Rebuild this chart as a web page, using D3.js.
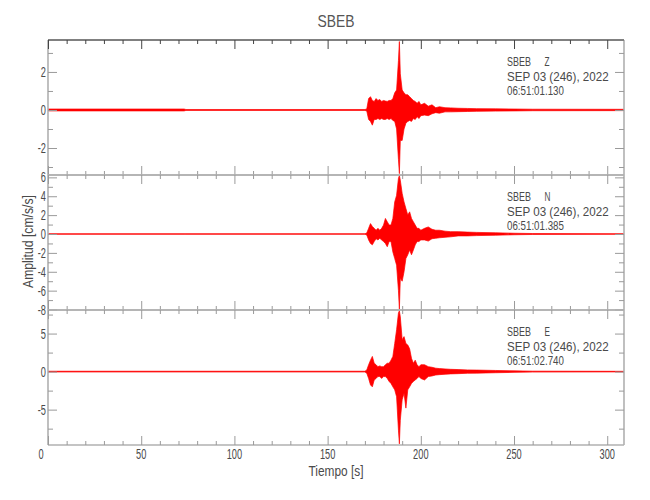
<!DOCTYPE html>
<html>
<head>
<meta charset="utf-8">
<script src="https://cdn.jsdelivr.net/npm/d3@7"></script>
<style>
  html, body { margin: 0; padding: 0; background: #ffffff; }
  svg { display: block; }
  text { font-family: "Liberation Sans", Arial, "DejaVu Sans", sans-serif; }
</style>
</head>
<body>
<div id="chart"></div>
<script>
// ---------- data ----------
const title = "SBEB";
const station = "SBEB";
const components = ["Z", "N", "E"];
const dateLabels = ["SEP 03 (246), 2022", "SEP 03 (246), 2022", "SEP 03 (246), 2022"];
const startTimes = ["06:51:01.130", "06:51:01.385", "06:51:02.740"];
const xLabel = "Tiempo [s]";
const yLabel = "Amplitud [cm/s/s]";

// sample times (s) of the envelope readings
const times = [0, 73, 74, 170, 171, 172, 173, 174, 175, 176, 177, 178, 179, 180, 181, 182, 183, 184, 185, 186, 187, 188, 188.5,
  189, 190, 191, 192, 193, 194, 195, 196, 197, 198, 199, 200, 202, 204, 206, 208, 210, 213, 216, 220, 225, 230, 240, 250, 260, 309];

// Z component: upper / lower envelope (cm/s/s)
const zUpper = [0.05, 0.05, 0.025, 0.025, 0.05, 0.6, 0.7, 0.5, 0.45, 0.6, 0.5, 0.55, 0.45, 0.5, 0.47, 0.45, 0.5, 0.5, 0.6, 0.9, 1.05, 2.6, 3.6,
  1.9, 1.05, 0.9, 0.8, 0.8, 0.7, 0.6, 0.5, 0.45, 0.35, 0.45, 0.27, 0.35, 0.2, 0.27, 0.12, 0.17, 0.12, 0.11, 0.09, 0.08, 0.07, 0.06, 0.05, 0.04, 0.035];
const zLower = [-0.05, -0.05, -0.025, -0.025, -0.05, -0.5, -0.6, -0.8, -0.5, -0.5, -0.45, -0.5, -0.45, -0.5, -0.5, -0.45, -0.5, -0.45, -0.55, -0.6, -1.0, -2.6, -3.35,
  -1.6, -1.6, -1.0, -0.7, -0.6, -0.55, -0.6, -0.45, -0.5, -0.35, -0.45, -0.3, -0.27, -0.3, -0.2, -0.14, -0.17, -0.1, -0.1, -0.09, -0.08, -0.07, -0.06, -0.05, -0.04, -0.035];

// N component
const nUpper = [0.03, 0.03, 0.03, 0.03, 0.1, 0.6, 1.1, 0.8, 0.6, 0.4, 0.6, 0.4, 0.6, 0.95, 1.65, 1.3, 0.95, 0.95, 1.65, 3.4, 4.1, 5.9, 6.2,
  5.7, 4.3, 3.4, 2.7, 2.0, 2.35, 1.65, 1.3, 0.95, 0.6, 0.6, 0.4, 0.6, 0.75, 0.5, 0.4, 0.4, 0.3, 0.25, 0.25, 0.2, 0.17, 0.13, 0.08, 0.05, 0.03];
const nLower = [-0.03, -0.03, -0.03, -0.03, -0.1, -0.63, -1.0, -1.15, -0.8, -0.5, -0.63, -0.45, -0.63, -0.8, -1.0, -1.35, -0.8, -0.8, -1.9, -2.6, -3.3, -6.0, -8.0,
  -4.7, -5.0, -4.0, -2.6, -2.2, -1.7, -2.2, -1.7, -1.15, -0.8, -0.8, -0.63, -0.63, -0.75, -0.5, -0.45, -0.4, -0.35, -0.3, -0.2, -0.2, -0.17, -0.13, -0.08, -0.05, -0.03];

// E component
const eUpper = [0.05, 0.05, 0.05, 0.05, 0.2, 0.9, 1.5, 2.0, 1.1, 0.9, 0.65, 0.75, 0.65, 0.65, 0.9, 1.1, 1.1, 1.5, 2.0, 3.7, 5.5, 7.7, 8.0,
  7.2, 4.2, 4.6, 3.7, 3.5, 3.0, 1.75, 1.1, 1.5, 0.9, 0.65, 0.9, 0.9, 0.65, 0.57, 0.45, 0.4, 0.35, 0.3, 0.27, 0.22, 0.2, 0.15, 0.1, 0.06, 0.04];
const eLower = [-0.05, -0.05, -0.05, -0.05, -0.2, -0.9, -1.75, -2.0, -1.1, -0.9, -0.65, -0.65, -0.9, -0.65, -0.65, -0.9, -1.3, -1.55, -2.0, -2.4, -3.3, -7.7, -9.5,
  -6.4, -3.7, -2.85, -4.8, -2.4, -2.0, -1.55, -1.3, -1.1, -0.9, -0.65, -0.9, -1.1, -0.65, -0.57, -0.45, -0.4, -0.35, -0.3, -0.27, -0.22, -0.2, -0.15, -0.1, -0.06, -0.04];

// axes
const xDomain = [0, 309];
const xMajorTicks = [0, 50, 100, 150, 200, 250, 300];
const xMinorTicks = [10, 20, 30, 40, 60, 70, 80, 90, 110, 120, 130, 140, 160, 170, 180, 190, 210, 220, 230, 240, 260, 270, 280, 290];
const yDomains = [[-3.42, 3.68], [-8.05, 6.25], [-9.65, 8.1]];
const yMajorTicks = [[-2, 0, 2], [-8, -6, -4, -2, 0, 2, 4, 6], [-5, 0, 5]];
const yMinorTicks = [[-3, -1, 1, 3], [-7, -5, -3, -1, 1, 3, 5], [-7.5, -2.5, 2.5, 7.5]];

// ---------- drawing ----------
const W = 650, H = 500;
const left = 48, right = 624;
const panelTops = [40, 175, 310];
const panelH = 135;
const textColor = "#4a4a4a";
const frameColor = "#b0b0b0";
const tickColor = "#9a9a9a";

const svg = d3.select("#chart").append("svg").attr("width", W).attr("height", H);
const x = d3.scaleLinear().domain(xDomain).range([left, right]);

function label(g, px, py, txt, size, opts = {}) {
  const t = g.append("text")
    .attr("transform", `translate(${px},${py})${opts.rotate ? " rotate(" + opts.rotate + ")" : ""} scale(${opts.sx || 1},1)`)
    .attr("text-anchor", opts.anchor || "start")
    .style("font-size", size + "px")
    .attr("fill", opts.fill || textColor)
    .text(txt);
  if (opts.len) t.attr("textLength", opts.len).attr("lengthAdjust", "spacingAndGlyphs");
  return t;
}

const uppers = [zUpper, nUpper, eUpper];
const lowers = [zLower, nLower, eLower];

const defs = svg.append("defs");

panelTops.forEach((top, i) => {
  const bottom = top + panelH;
  const y = d3.scaleLinear().domain(yDomains[i]).range([bottom, top]);
  const g = svg.append("g");

  defs.append("clipPath").attr("id", "clip" + i)
    .append("rect").attr("x", left).attr("y", top).attr("width", right - left).attr("height", panelH);

  const rows = times.map((t, k) => ({ t, hi: uppers[i][k], lo: lowers[i][k] }));
  const area = d3.area().x(d => x(d.t)).y0(d => y(d.lo)).y1(d => y(d.hi));
  g.append("path").datum(rows)
    .attr("clip-path", `url(#clip${i})`)
    .attr("d", area)
    .attr("fill", "#ff0000")
    .attr("stroke", "#ff0000")
    .attr("stroke-width", 0.7)
    .attr("stroke-linejoin", "round");

  // frame
  g.append("line").attr("x1", left).attr("x2", left).attr("y1", top).attr("y2", bottom).attr("stroke", frameColor).attr("stroke-width", 1.6);
  g.append("line").attr("x1", right).attr("x2", right).attr("y1", top).attr("y2", bottom).attr("stroke", frameColor).attr("stroke-width", 1.6);
  g.append("line").attr("x1", left).attr("x2", right).attr("y1", top).attr("y2", top)
    .attr("stroke", i === 0 ? "#808080" : frameColor).attr("stroke-width", i === 0 ? 2 : 1.6);
  g.append("line").attr("x1", left).attr("x2", right).attr("y1", bottom).attr("y2", bottom).attr("stroke", frameColor).attr("stroke-width", 1.6);

  // x ticks (top and bottom, inward)
  const topTickColor = i === 0 ? "#444" : tickColor;
  const addX = (vals, len) => {
    const ga = g.append("g").attr("transform", `translate(0,${top})`)
      .call(d3.axisTop(x).tickValues(vals).tickSize(-len).tickFormat(""));
    ga.select(".domain").remove();
    ga.selectAll("line").attr("stroke", topTickColor);
    const gb = g.append("g").attr("transform", `translate(0,${bottom})`)
      .call(d3.axisBottom(x).tickValues(vals).tickSize(-len).tickFormat(""));
    gb.select(".domain").remove();
    gb.selectAll("line").attr("stroke", tickColor);
  };
  addX(xMajorTicks, 9);
  addX(xMinorTicks, 4);

  // y ticks (left and right, inward)
  const addY = (vals, len) => {
    const gl = g.append("g").attr("transform", `translate(${left},0)`)
      .call(d3.axisLeft(y).tickValues(vals).tickSize(-len).tickFormat(""));
    gl.select(".domain").remove();
    gl.selectAll("line").attr("stroke", tickColor);
    const gr = g.append("g").attr("transform", `translate(${right},0)`)
      .call(d3.axisRight(y).tickValues(vals).tickSize(-len).tickFormat(""));
    gr.select(".domain").remove();
    gr.selectAll("line").attr("stroke", tickColor);
  };
  addY(yMajorTicks[i], 9);
  addY(yMinorTicks[i], 5);

  // y tick labels
  yMajorTicks[i].forEach(v => {
    label(g, 46, y(v) + 5, v < 0 ? "-" + Math.abs(v) : String(v), 14, { sx: 0.66, anchor: "end" });
  });

  // annotation block (narrow font emulated by horizontal scaling)
  const ay = top + 26;
  label(g, 507, ay, station, 13, { sx: 0.69 });
  label(g, 544.5, ay, components[i], 13, { sx: 0.63 });
  label(g, 507, ay + 14.5, dateLabels[i], 13, { sx: 0.893 });
  label(g, 507, ay + 29, startTimes[i], 13, { sx: 0.75 });
});

// x tick labels (bottom panel only)
const axisBottomY = panelTops[2] + panelH;
xMajorTicks.forEach(v => {
  label(svg, x(v) + (v === 0 ? -7 : 0), axisBottomY + 14, String(v), 14, { sx: 0.66, anchor: "middle" });
});

// axis titles and main title
label(svg, 336, 476, xLabel, 15, { anchor: "middle", len: 55 });
label(svg, 33, 241.5, yLabel, 15, { anchor: "middle", rotate: -90, len: 93 });
label(svg, 336, 27, title, 17, { anchor: "middle", len: 37, fill: "#555" });
</script>
</body>
</html>
